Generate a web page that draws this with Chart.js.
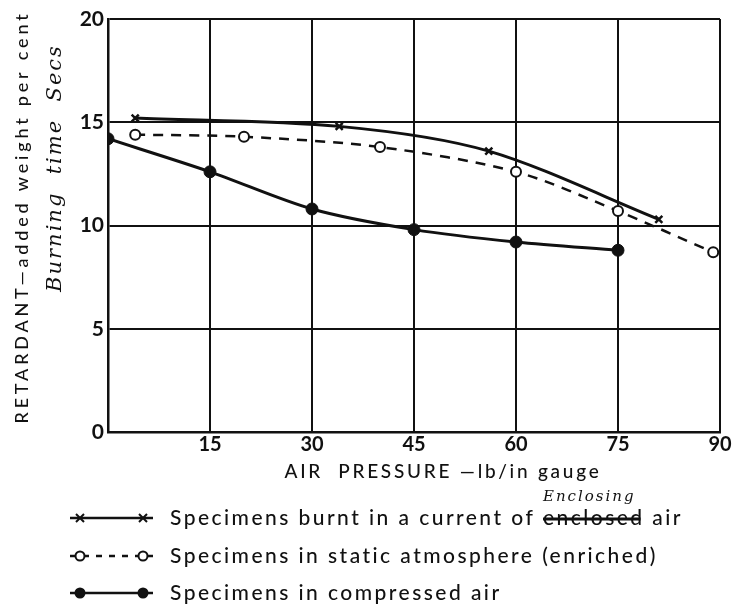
<!DOCTYPE html>
<html>
<head>
<meta charset="utf-8">
<script src="https://cdn.jsdelivr.net/npm/chart.js@4.4.0/dist/chart.umd.min.js"></script>
<style>
  html, body { margin: 0; padding: 0; background: #fff; }
</style>
</head>
<body>
<canvas id="grafico" width="738" height="605"></canvas>
<script>
// valores
const xTicks = [0, 15, 30, 45, 60, 75, 90];
const yTicks = [0, 5, 10, 15, 20];
const nomes = [
  "Specimens burnt in a current of enclosed air",
  "Specimens in static atmosphere (enriched)",
  "Specimens in compressed air"
];
const correnteX = [4, 34, 56, 81];
const correnteY = [15.2, 14.8, 13.6, 10.3];
const estaticaX = [4, 20, 40, 60, 75, 89];
const estaticaY = [14.4, 14.3, 13.8, 12.6, 10.7, 8.7];
const comprimidoX = [0, 15, 30, 45, 60, 75];
const comprimidoY = [14.2, 12.6, 10.8, 9.8, 9.2, 8.8];

const tinta = "#111";
const fonte = "Lato, 'DejaVu Sans', sans-serif";

function pontos(xs, ys) {
  return xs.map((x, i) => ({ x: x, y: ys[i] }));
}

// espaçamento entre letras para o texto ocupar a largura medida
function espacar(ctx, texto, largura) {
  ctx.letterSpacing = "0px";
  const w = ctx.measureText(texto).width;
  const esp = (largura - w) / texto.length;
  ctx.letterSpacing = esp + "px";
  return esp;
}

// desenha um marcador da legenda
function marcador(ctx, tipo, x, y) {
  ctx.save();
  ctx.lineWidth = 2;
  ctx.strokeStyle = tinta;
  if (tipo === "x") {
    ctx.beginPath();
    ctx.moveTo(x - 4, y - 4); ctx.lineTo(x + 4, y + 4);
    ctx.moveTo(x + 4, y - 4); ctx.lineTo(x - 4, y + 4);
    ctx.stroke();
  } else {
    ctx.beginPath();
    ctx.arc(x, y, 4.5, 0, Math.PI * 2);
    ctx.fillStyle = tipo === "cheio" ? tinta : "#fff";
    ctx.fill();
    ctx.stroke();
  }
  ctx.restore();
}

// títulos, legenda e anotações
const textos = {
  id: "textos",
  afterDraw(chart) {
    const ctx = chart.ctx;
    ctx.save();
    ctx.fillStyle = tinta;
    ctx.textBaseline = "middle";

    // título do eixo y
    ctx.save();
    ctx.translate(22, 217);
    ctx.rotate(-Math.PI / 2);
    ctx.textAlign = "center";
    ctx.font = "500 18px " + fonte;
    const tituloY = "RETARDANT\u2014added weight per cent";
    espacar(ctx, tituloY, 413);
    ctx.fillText(tituloY, 0, 0);
    ctx.restore();

    // anotação manuscrita no eixo y
    ctx.save();
    ctx.translate(56, 168);
    ctx.rotate(-Math.PI / 2);
    ctx.textAlign = "center";
    ctx.font = "italic 21px 'DejaVu Serif', serif";
    ctx.letterSpacing = "2px";
    ctx.fillText("Burning  time  Secs", 0, 0);
    ctx.restore();

    // título do eixo x
    ctx.textAlign = "center";
    ctx.font = "500 19px " + fonte;
    const tituloX = "AIR  PRESSURE \u2014lb/in gauge";
    espacar(ctx, tituloX, 317);
    ctx.fillText(tituloX, 443, 472);

    // legenda
    const estilos = [
      { y: 518, dash: [], ini: "x", fim: "x" },
      { y: 556, dash: [6, 7], ini: "aberto", fim: "aberto" },
      { y: 593, dash: [], ini: "cheio", fim: "cheio" }
    ];
    ctx.textAlign = "left";
    ctx.font = "500 21px " + fonte;
    const esp = espacar(ctx, nomes[0], 513);
    ctx.letterSpacing = esp + "px";
    estilos.forEach((e, i) => {
      ctx.save();
      ctx.strokeStyle = tinta;
      ctx.lineWidth = 2.5;
      ctx.setLineDash(e.dash);
      ctx.beginPath();
      ctx.moveTo(70, e.y);
      ctx.lineTo(153, e.y);
      ctx.stroke();
      ctx.restore();
      marcador(ctx, e.ini, 80, e.y);
      marcador(ctx, e.fim, 143, e.y);
      ctx.fillText(nomes[i], 170, e.y);
    });

    // "enclosed" riscado e correção manuscrita
    const antes = ctx.measureText("Specimens burnt in a current of ").width;
    const riscado = ctx.measureText("enclosed").width;
    ctx.strokeStyle = tinta;
    ctx.lineWidth = 3;
    ctx.beginPath();
    ctx.moveTo(170 + antes, 519);
    ctx.lineTo(170 + antes + riscado - 4, 519);
    ctx.stroke();
    ctx.font = "italic 15px 'DejaVu Serif', serif";
    ctx.letterSpacing = "2px";
    ctx.fillText("Enclosing", 170 + antes, 497);

    ctx.restore();
  }
};

new Chart(document.getElementById("grafico"), {
  type: "scatter",
  data: {
    datasets: [
      {
        label: nomes[0],
        data: pontos(correnteX, correnteY),
        showLine: true,
        borderColor: tinta,
        borderWidth: 3,
        tension: 0.3,
        pointStyle: "crossRot",
        pointRadius: 5,
        pointBorderWidth: 2.5,
        pointBorderColor: tinta
      },
      {
        label: nomes[1],
        data: pontos(estaticaX, estaticaY),
        showLine: true,
        borderColor: tinta,
        borderWidth: 2.5,
        borderDash: [10, 8],
        tension: 0.3,
        pointStyle: "circle",
        pointRadius: 5,
        pointBorderWidth: 2,
        pointBorderColor: tinta,
        pointBackgroundColor: "#fff"
      },
      {
        label: nomes[2],
        data: pontos(comprimidoX, comprimidoY),
        showLine: true,
        borderColor: tinta,
        borderWidth: 3,
        tension: 0.3,
        pointStyle: "circle",
        pointRadius: 6,
        pointBorderWidth: 1,
        pointBorderColor: tinta,
        pointBackgroundColor: tinta
      }
    ]
  },
  options: {
    responsive: false,
    animation: false,
    devicePixelRatio: 1,
    layout: { padding: { top: 19, right: 18, left: 0, bottom: 0 } },
    plugins: {
      legend: { display: false },
      tooltip: { enabled: false }
    },
    scales: {
      x: {
        type: "linear",
        min: 0,
        max: 90,
        afterBuildTicks: (s) => { s.ticks = xTicks.map((v) => ({ value: v })); },
        afterFit: (s) => { s.height = 173; },
        grid: { color: tinta, lineWidth: 2, drawTicks: false },
        border: { color: tinta, width: 2.5 },
        ticks: {
          color: tinta,
          padding: 1,
          maxRotation: 0,
          font: { family: fonte, size: 20, weight: "bold" },
          callback: (v) => (v === 0 ? "" : v)
        }
      },
      y: {
        type: "linear",
        min: 0,
        max: 20,
        afterBuildTicks: (s) => { s.ticks = yTicks.map((v) => ({ value: v })); },
        afterFit: (s) => { s.width = 108; },
        grid: { color: tinta, lineWidth: 2, drawTicks: false },
        border: { color: tinta, width: 2.5 },
        ticks: {
          color: tinta,
          padding: 4,
          font: { family: fonte, size: 21, weight: "bold" }
        }
      }
    }
  },
  plugins: [textos]
});
</script>
</body>
</html>
